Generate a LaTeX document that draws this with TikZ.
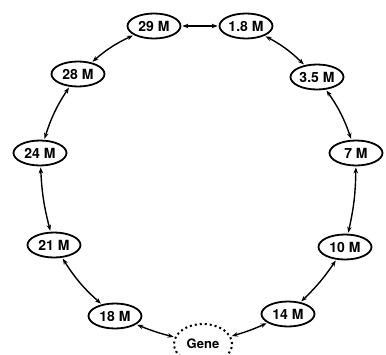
\documentclass[tikz,border=0pt]{standalone}
\usepackage{fontspec}
\setmainfont{TeX Gyre Heros}
\usetikzlibrary{shapes.geometric,arrows.meta}
\tikzset{
  mnode/.style={ellipse, draw, line width=1.8pt, minimum width=53pt, minimum height=25pt, inner sep=0pt, font=\fontsize{14}{14}\selectfont\bfseries},
  genenode/.style={mnode, dash pattern=on 2pt off 3pt, line width=2pt, minimum width=58pt, minimum height=40pt, font=\fontsize{13}{13}\selectfont\bfseries},
  link/.style={line width=1.4pt, {Stealth[length=6pt,width=4.5pt]}-{Stealth[length=6pt,width=4.5pt]}, shorten <=1pt, shorten >=1pt}
}
\begin{document}
\begin{tikzpicture}[x=1pt,y=-1pt]
\useasboundingbox (0,0) rectangle (386,354);
\clip (0,0) rectangle (386,354);
\node[mnode] (m29) at (154,26) {29 M};
\node[mnode] (m18) at (246,26) {1.8 M};
\node[mnode] (m28) at (78,74) {28 M};
\node[mnode] (m35) at (317,77) {3.5 M};
\node[mnode] (m24) at (40,153) {24 M};
\node[mnode] (m7) at (356,153) {7 M};
\node[mnode] (m21) at (54,245) {21 M};
\node[mnode] (m10) at (345,247) {10 M};
\node[mnode] (m18b) at (115,316) {18 M};
\node[mnode] (m14) at (288,314) {14 M};
\node[genenode] (gene) at (203,344) {Gene};
\draw[link] (m29) to[bend right=8] (m28);
\draw[link] (m28) to[bend right=8] (m24);
\draw[link] (m24) to[bend right=6] (m21);
\draw[link] (m21) to[bend right=8] (m18b);
\draw[link] (m18b) to[bend right=4] (gene);
\draw[link] (gene) to[bend right=4] (m14);
\draw[link] (m14) to[bend right=6] (m10);
\draw[link] (m10) to[bend right=6] (m7);
\draw[link] (m7) to[bend right=8] (m35);
\draw[link] (m35) to[bend right=8] (m18);
\draw[link] (m18) -- (m29);
\end{tikzpicture}
\end{document}
